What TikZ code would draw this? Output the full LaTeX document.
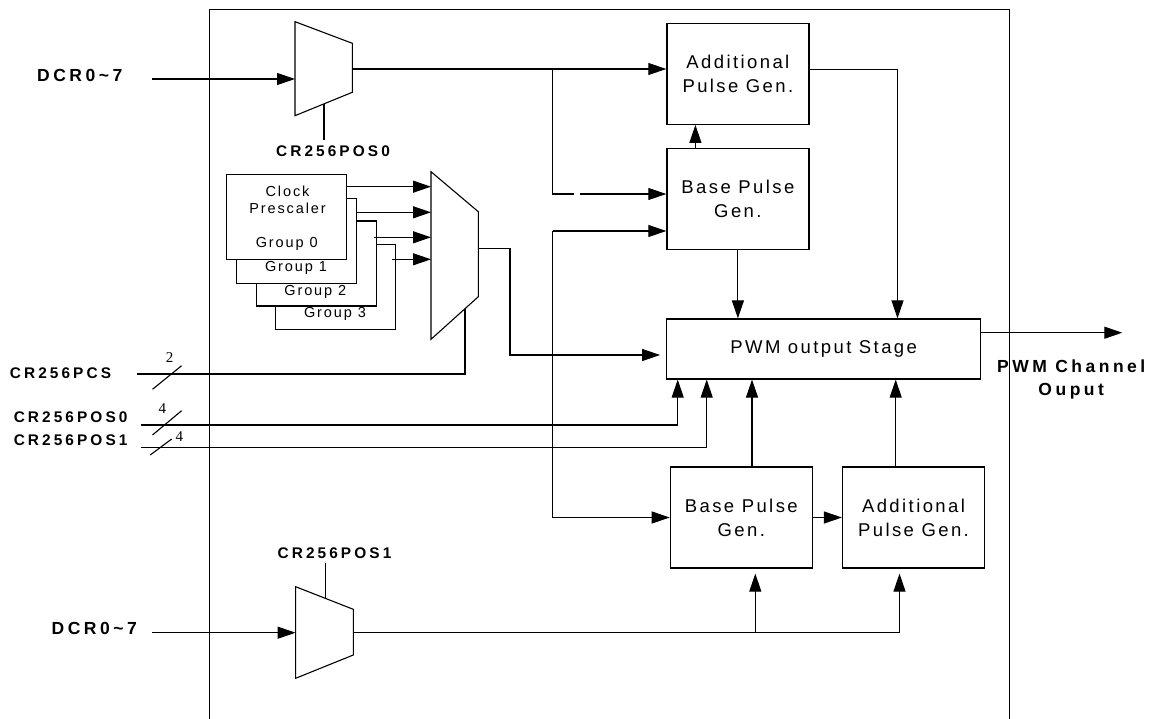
\documentclass[tikz,border=0pt]{standalone}
\usepackage{fontspec}
\setmainfont{Liberation Sans}
\newfontfamily\boxfont[LetterSpace=13]{Liberation Sans}
\newfontfamily\lblfont[LetterSpace=20]{Liberation Sans}
\newfontfamily\numfont{Liberation Serif}
\usepackage{tikz}
\usetikzlibrary{arrows.meta, positioning, calc}
\tikzset{
  pgbox/.style={rectangle, draw, line width=1.2pt,
    minimum width=142pt, minimum height=101pt, inner sep=0pt,
    align=center, font=\boxfont\fontsize{18.5}{24}\selectfont},
  pwmbox/.style={pgbox, minimum width=314pt, minimum height=60pt},
  grpbox/.style={rectangle, draw, fill=white, line width=1.1pt,
    minimum width=120pt, minimum height=85pt, inner sep=0pt},
  grptext/.style={inner sep=0pt, align=center,
    font=\boxfont\fontsize{14.5}{17.3}\selectfont},
  siglbl/.style={inner sep=0pt, font=\lblfont\bfseries\fontsize{15.4}{18}\selectfont},
  biglbl/.style={inner sep=0pt, align=center,
    font=\lblfont\bfseries\fontsize{17.5}{23}\selectfont},
  busnum/.style={inner sep=0pt, font=\numfont\fontsize{15}{15}\selectfont},
  frame/.style={line width=1.3pt},
  arrow/.style={-{Triangle[length=18pt, width=12pt]}, line width=1.1pt},
  line/.style={line width=1.1pt}
}

\begin{document}
\begin{tikzpicture}[x=1pt, y=-1pt]
  \useasboundingbox (0,0) rectangle (1153,719);
  % chip outline, open at the bottom
  \draw[frame] (209.7,730) -- (209.7,9.3) -- (1009.5,9.3) -- (1009.5,730);

  % pulse generators and output stage
  \node[pgbox] (ap0) at (737.9,73.8) {Additional\\Pulse Gen.};
  \node[pgbox] (bp0) at (737.9,198.9) {Base Pulse\\Gen.};
  \node[pwmbox] (pwm) at (823.7,349) {PWM output Stage};
  \node[pgbox] (bp1) at (741.3,517.5) {Base Pulse\\Gen.};
  \node[pgbox] (ap1) at (913.5,517.5) {Additional\\Pulse Gen.};

  % clock prescaler groups, back to front
  \node[grpbox] (g3) at (335.4,287) {};
  \node[grpbox] (g2) at (316.4,263.5) {};
  \node[grpbox] (g1) at (296.7,240.8) {};
  \node[grpbox] (g0) at (286.9,217.2) {};
  \node[grptext] (clk) at (287.5,199.7) {Clock\\Prescaler};
  \node[grptext] (g0t) at (286.7,244.3) {Group 0};
  \node[grptext] (g1t) at (296,268.3) {Group 1};
  \node[grptext] (g2t) at (315.3,291.7) {Group 2};
  \node[grptext] (g3t) at (335,314) {Group 3};

  % labels
  \node[biglbl] (dcrA) at (79.7,75) {DCR0\textasciitilde7};
  \node[siglbl] (m0lbl) at (333,151.7) {CR256POS0};
  \node[siglbl] (pcs) at (60.5,372.7) {CR256PCS};
  \node[siglbl] (pos0) at (70.6,417.3) {CR256POS0};
  \node[siglbl] (pos1) at (70.6,440) {CR256POS1};
  \node[siglbl] (m2lbl) at (334.5,553.3) {CR256POS1};
  \node[biglbl] (dcrB) at (94.2,628.3) {DCR0\textasciitilde7};
  \node[biglbl] (outlbl) at (1071.2,379.2) {PWM Channel\\Ouput};
  \node[busnum] (n2) at (169.5,357.7) {2};
  \node[busnum] (n4a) at (162.3,408.3) {4};
  \node[busnum] (n4b) at (179.4,436.7) {4};

  % top mux
  \coordinate (m0in) at (295,79);
  \coordinate (m0out) at (352.3,69);
  \coordinate (m0sel) at (324,103.9);
  \draw[line] (295,21.7) -- (352.3,43.3) -- (352.3,92.3) -- (295,115.7) -- cycle;
  % prescaler mux
  \coordinate (m1i0) at (431,186.7);
  \coordinate (m1i1) at (431,212.3);
  \coordinate (m1i2) at (431,237.3);
  \coordinate (m1i3) at (431,259.3);
  \coordinate (m1out) at (478.3,248.3);
  \coordinate (m1sel) at (465,308.7);
  \draw[line] (431,171.7) -- (478.3,211.7) -- (478.3,296.7) -- (431,339.3) -- cycle;
  % bottom mux
  \coordinate (m2in) at (295.6,632.7);
  \coordinate (m2out) at (353.3,632.7);
  \coordinate (m2sel) at (325.2,598.3);
  \draw[line] (295.6,586.7) -- (353.3,609.3) -- (353.3,655) -- (295.6,678.3) -- cycle;

  % free ends and bends
  \coordinate (dcrAs) at (152.3,79);
  \coordinate (dcrBs) at (151.5,632.7);
  \coordinate (pcss) at (137,374);
  \coordinate (pos0s) at (141,425);
  \coordinate (pos1s) at (141,447.5);
  \coordinate (pos0x) at (677.7,425);
  \coordinate (pos1x) at (706.7,447.5);
  \coordinate (br0) at (552.7,69);
  \coordinate (gapl) at (574,194);
  \coordinate (gapr) at (580,194);
  \coordinate (br1) at (552.7,231);
  \coordinate (m1bend) at (510,248.3);
  \coordinate (bpup) at (695.4,148.3);
  \coordinate (apdn) at (897.5,69.7);
  \coordinate (pwmout) at (1122.3,332.7);
  \coordinate (bp1up) at (752,466.7);
  \coordinate (ap1up) at (895.7,466.7);
  \coordinate (bj) at (755.3,632.7);
  \coordinate (aj) at (899.5,632.7);

  % inputs
  \draw[arrow] (dcrAs) -- (m0in);
  \draw[arrow] (dcrBs) -- (m2in);
  \draw[line, shorten >=6pt] (m0sel) -- (m0sel |- m0lbl.north);
  \draw[line, shorten >=4.5pt] (m2sel) -- (m2sel |- m2lbl.south);
  \draw[line] (pcss) -| (m1sel);
  \draw[arrow] (pos0s) -| (pwm.south -| pos0x);
  \draw[arrow] (pos1s) -| (pwm.south -| pos1x);
  \draw[line] (152.5,389.3) -- (181.6,365.7);
  \draw[line] (152.5,435) -- (181.6,410.7);
  \draw[line] (150.2,455) -- (171.7,439);

  % prescaler outputs into the mux
  \draw[arrow] (g0.east |- m1i0) -- (m1i0);
  \draw[arrow] (g1.east |- m1i1) -- (m1i1);
  \draw[arrow] ([xshift=-3pt]g2.east |- m1i2) -- (m1i2);
  \draw[arrow] ([xshift=-4pt]g3.east |- m1i3) -- (m1i3);
  \draw[arrow, shorten >=6pt] (m1out) -- (m1bend) |- ($(pwm.west)+(0,6)$);

  % top path
  \draw[arrow] (m0out) -- (ap0.west |- m0out);
  \draw[line] (br0) |- (gapl);
  \draw[arrow] (gapr) -- (bp0.west |- gapr);
  \draw[arrow] (br1) -- (bp0.west |- br1);
  \draw[arrow] (br1) |- (bp1.west);
  \draw[arrow] (bp0.north -| bpup) -- (ap0.south -| bpup);
  \draw[arrow] (bp0.south) -- (bp0.south |- pwm.north);
  \draw[arrow] (ap0.east |- apdn) -| (pwm.north -| apdn);
  \draw[arrow] (pwm.east |- pwmout) -- (pwmout);

  % bottom path
  \draw[arrow] (bp1.east) -- (ap1.west);
  \draw[arrow] (bp1up) -- (pwm.south -| bp1up);
  \draw[arrow] (ap1up) -- (pwm.south -| ap1up);
  \draw[arrow, shorten >=5pt] (m2out) -| (ap1.south -| aj);
  \draw[arrow, shorten >=5pt] (bj) -- (bp1.south -| bj);
\end{tikzpicture}
\end{document}
